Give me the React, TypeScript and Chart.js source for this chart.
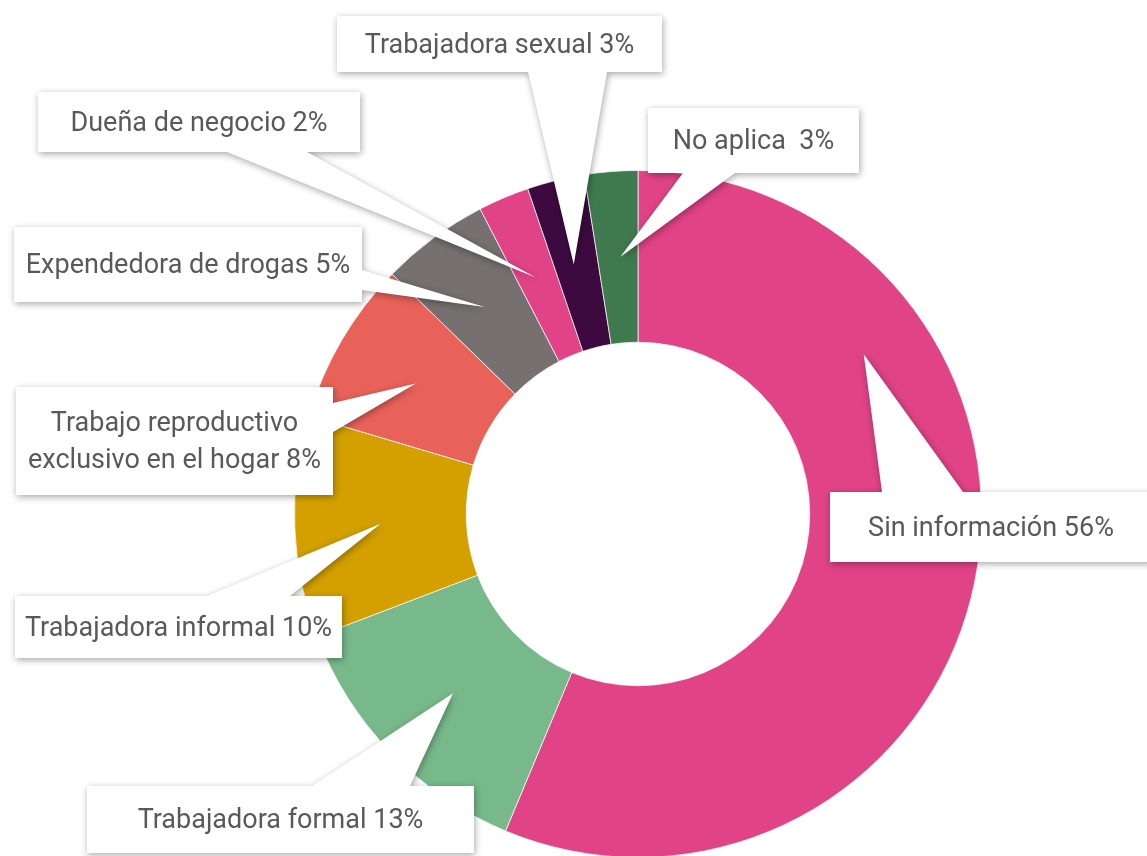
import React, { useEffect, useRef } from "react";
import { Chart, registerables } from "chart.js";

Chart.register(...registerables);

// ---- data ----
const categories = [
  "Sin información",
  "Trabajadora formal",
  "Trabajadora informal",
  "Trabajo reproductivo exclusivo en el hogar",
  "Expendedora de drogas",
  "Dueña de negocio",
  "Trabajadora sexual",
  "No aplica ",
];
const values = [56.3, 12.9, 10.4, 7.7, 5.1, 2.4, 2.7, 2.5];
const colors = [
  "#E04386",
  "#77B98A",
  "#D3A000",
  "#E8625A",
  "#767170",
  "#E04386",
  "#3D0A40",
  "#3E7A4E",
];

// ---- callout layout (box rect, pointer base edge/range, pointer tip within slice) ----
type Callout = {
  x: number; y: number; w: number; h: number;
  edge: "top" | "bottom" | "left" | "right";
  b0: number; b1: number;
  tipA: number; tipR: number;
};
const callouts: Callout[] = [
  { x: 830, y: 492, w: 322, h: 70, edge: "top", b0: 882, b1: 963, tipA: 0.27, tipR: 0.61 },
  { x: 87, y: 786, w: 387, h: 67, edge: "top", b0: 312, b1: 410, tipA: 0.5, tipR: 0.5 },
  { x: 15, y: 596, w: 327, h: 62, edge: "top", b0: 207, b1: 290, tipA: 0.5, tipR: 0.5 },
  { x: 16, y: 387, w: 317, h: 108, edge: "right", b0: 403, b1: 432, tipA: 0.5, tipR: 0.5 },
  { x: 14, y: 227, w: 348, h: 75, edge: "right", b0: 270, b1: 290, tipA: 0.5, tipR: 0.5 },
  { x: 38, y: 92, w: 322, h: 60, edge: "bottom", b0: 227, b1: 307, tipA: 0.46, tipR: 0.5 },
  { x: 337, y: 16, w: 325, h: 56, edge: "bottom", b0: 528, b1: 607, tipA: 0.44, tipR: 0.5 },
  { x: 648, y: 108, w: 211, h: 65, edge: "bottom", b0: 683, b1: 735, tipA: 0.56, tipR: 0.5 },
];

const FONT = "27px Roboto, 'Liberation Sans', sans-serif";
const TEXT_COLOR = "#595959";
const LINE_H = 37;

function wrap(ctx: CanvasRenderingContext2D, text: string, maxW: number): string[] {
  const words = text.split(" ");
  const lines: string[] = [];
  let cur = "";
  for (let i = 0; i < words.length; i++) {
    const test = cur.length ? cur + " " + words[i] : words[i];
    if (ctx.measureText(test).width > maxW && cur.length && words[i] !== "") {
      lines.push(cur);
      cur = words[i];
    } else {
      cur = test;
    }
  }
  if (cur.length) lines.push(cur);
  return lines;
}

const calloutPlugin = {
  id: "callouts",
  afterDraw(chart: any) {
    const ctx: CanvasRenderingContext2D = chart.ctx;
    const meta = chart.getDatasetMeta(0);
    const ds = chart.data.datasets[0].data as number[];
    const total = ds.reduce((a, b) => a + b, 0);
    callouts.forEach((c, i) => {
      const arc = meta.data[i];
      if (!arc) return;
      const p = arc.getProps(["x", "y", "startAngle", "endAngle", "innerRadius", "outerRadius"], true);
      const a = p.startAngle + c.tipA * (p.endAngle - p.startAngle);
      const r = p.innerRadius + c.tipR * (p.outerRadius - p.innerRadius);
      const tx = p.x + r * Math.cos(a);
      const ty = p.y + r * Math.sin(a);
      const { x, y, w, h } = c;
      ctx.save();
      ctx.beginPath();
      ctx.moveTo(x, y);
      if (c.edge === "top") {
        ctx.lineTo(c.b0, y);
        ctx.lineTo(tx, ty);
        ctx.lineTo(c.b1, y);
      }
      ctx.lineTo(x + w, y);
      if (c.edge === "right") {
        ctx.lineTo(x + w, c.b0);
        ctx.lineTo(tx, ty);
        ctx.lineTo(x + w, c.b1);
      }
      ctx.lineTo(x + w, y + h);
      if (c.edge === "bottom") {
        ctx.lineTo(c.b1, y + h);
        ctx.lineTo(tx, ty);
        ctx.lineTo(c.b0, y + h);
      }
      ctx.lineTo(x, y + h);
      if (c.edge === "left") {
        ctx.lineTo(x, c.b1);
        ctx.lineTo(tx, ty);
        ctx.lineTo(x, c.b0);
      }
      ctx.closePath();
      ctx.shadowColor = "rgba(0,0,0,0.35)";
      ctx.shadowBlur = 7;
      ctx.shadowOffsetX = 1;
      ctx.shadowOffsetY = 2;
      ctx.fillStyle = "#ffffff";
      ctx.fill();
      ctx.restore();

      ctx.save();
      ctx.font = FONT;
      ctx.fillStyle = TEXT_COLOR;
      ctx.textAlign = "center";
      ctx.textBaseline = "middle";
      const pct = Math.round((ds[i] / total) * 100);
      const label = chart.data.labels[i] + " " + pct + "%";
      const lines = wrap(ctx, label, w - 8);
      const cx = x + w / 2;
      const cy = y + h / 2 + 2;
      lines.forEach((ln, k) => {
        ctx.fillText(ln, cx, cy + (k - (lines.length - 1) / 2) * LINE_H);
      });
      ctx.restore();
    });
  },
};

export default function App() {
  const ref = useRef<HTMLCanvasElement | null>(null);
  useEffect(() => {
    document.body.style.margin = "0";
    const canvas = ref.current;
    if (!canvas) return;
    const chart = new Chart(canvas, {
      type: "doughnut",
      data: {
        labels: categories,
        datasets: [
          {
            data: values,
            backgroundColor: colors,
            borderColor: "rgba(255,255,255,0.7)",
            borderWidth: 1,
          },
        ],
      },
      options: {
        responsive: false,
        animation: false,
        cutout: "50%",
        layout: { padding: { left: 294, right: 165, top: 170, bottom: 22 } },
        plugins: {
          legend: { display: false },
          tooltip: { enabled: false },
        },
      },
      plugins: [calloutPlugin],
    });
    return () => chart.destroy();
  }, []);
  return (
    <div style={{ position: "fixed", left: 0, top: 0, width: 1147, height: 856, overflow: "hidden", background: "#fff" }}>
      <canvas ref={ref} width={1147} height={880} style={{ width: 1147, height: 880, display: "block" }} />
    </div>
  );
}
